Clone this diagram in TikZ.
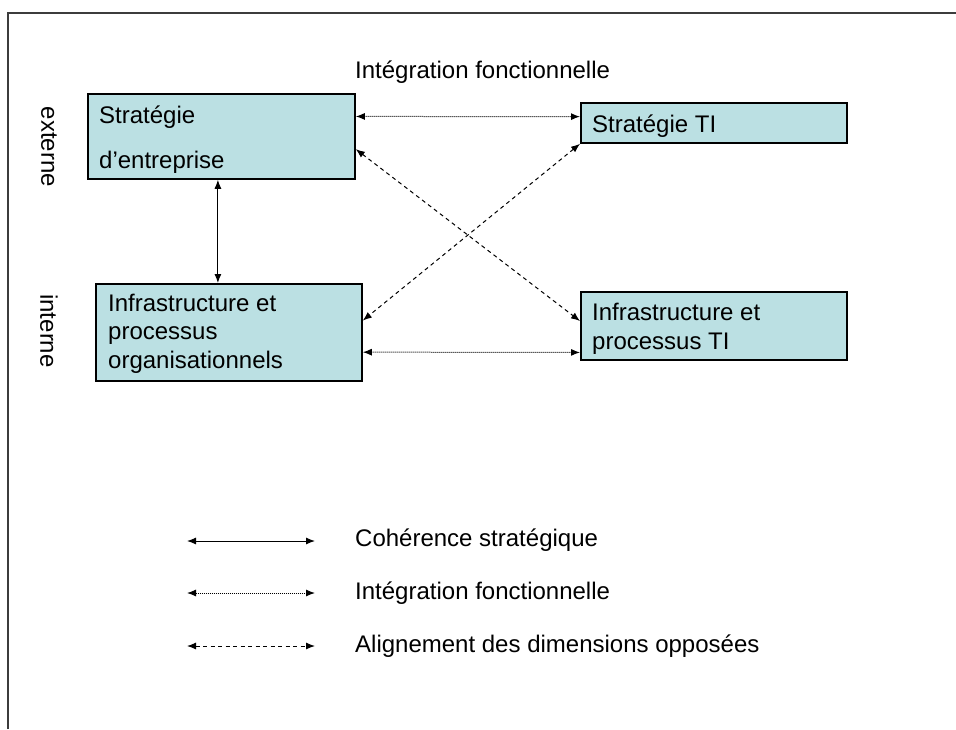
\documentclass[tikz,border=0pt]{standalone}
\usepackage{fontspec}
\setmainfont{Liberation Sans}
\usetikzlibrary{arrows.meta,calc}
\definecolor{boxfill}{RGB}{187,224,227}
\definecolor{framegray}{RGB}{60,60,60}
\begin{document}
\begin{tikzpicture}[x=1pt,y=-1pt,
  box/.style={draw=black,line width=1.8pt,fill=boxfill,inner sep=0pt,anchor=north west},
  lbl/.style={font=\fontsize{24}{28}\selectfont,inner sep=0pt,anchor=base west},
  side/.style={font=\fontsize{24}{28}\selectfont,inner sep=0pt,rotate=-90},
  conn/.style={line width=1pt,{Latex[length=9pt,width=7pt]}-{Latex[length=9pt,width=7pt]}},
  dotline/.style={conn,dash pattern=on 1pt off 1pt},
  dashline/.style={conn,dash pattern=on 4pt off 3.5pt}]
\useasboundingbox (0,0) rectangle (956,729);

% open frame: top and left edges only
\draw[line width=1.2pt,framegray] (8,729) -- (8,13) -- (956,13);

% heading
\node[lbl] (title) at (355,78) {Intégration fonctionnelle};

% side labels
\node[side] (ext) at (49,147) {externe};
\node[side] (int) at (49,331) {interne};

% the four domains
\node[box,minimum width=267pt,minimum height=85pt] (se) at (87,93) {};
\node[box,minimum width=266pt,minimum height=40pt] (sti) at (580,102) {};
\node[box,minimum width=266pt,minimum height=97pt] (io) at (95,283) {};
\node[box,minimum width=266pt,minimum height=68pt] (iti) at (580,291) {};

\node[lbl] (se1) at (99,123) {Stratégie};
\node[lbl] (se2) at (99,168) {d’entreprise};
\node[lbl] (sti1) at (592,132) {Stratégie TI};
\node[lbl] (io1) at (108,311) {Infrastructure et};
\node[lbl] (io2) at (108,339) {processus};
\node[lbl] (io3) at (108,368) {organisationnels};
\node[lbl] (iti1) at (592,320) {Infrastructure et};
\node[lbl] (iti2) at (592,349) {processus TI};

% strategic fit
\coordinate (vtop) at ($(se.south west)!0.487!(se.south east)$);
\draw[conn] (vtop) -- (vtop |- io.north);

% functional integration
\draw[dotline] ($(se.north east)!0.27!(se.south east)$) -- ($(sti.north west)!0.35!(sti.south west)$);
\draw[dotline] ($(io.north east)!0.70!(io.south east)$) -- ($(iti.north west)!0.88!(iti.south west)$);

% cross-dimension alignment
\draw[dashline] ($(se.north east)!0.647!(se.south east)$) -- ($(iti.north west)!0.43!(iti.south west)$);
\draw[dashline] (sti.south west) -- ($(io.north east)!0.38!(io.south east)$);

% legend
\coordinate (l1a) at (187,541); \coordinate (l1b) at (315,541);
\coordinate (l2a) at (187,593); \coordinate (l2b) at (315,593);
\coordinate (l3a) at (187,646); \coordinate (l3b) at (315,646);
\draw[conn] (l1a) -- (l1b);
\draw[dotline] (l2a) -- (l2b);
\draw[dashline] (l3a) -- (l3b);
\node[lbl] (leg1) at (355,546) {Cohérence stratégique};
\node[lbl] (leg2) at (355,599) {Intégration fonctionnelle};
\node[lbl] (leg3) at (355,652) {Alignement des dimensions opposées};
\end{tikzpicture}
\end{document}
